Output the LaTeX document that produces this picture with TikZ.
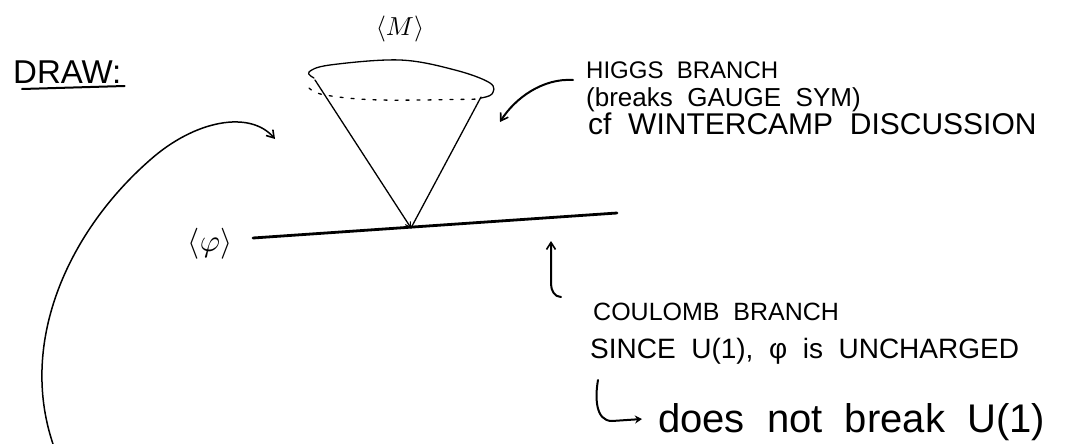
\documentclass[tikz,border=0pt]{standalone}
\usepackage{fontspec}
\setmainfont{Liberation Sans}[WordSpace=2]
\usetikzlibrary{arrows.meta}
\begin{document}
\begin{tikzpicture}[x=1pt,y=-1pt,
  ink/.style={line width=2pt, line cap=round, line join=round},
  fine/.style={line width=1.3pt, line cap=round, line join=round},
  bold/.style={line width=2.8pt, line cap=round},
  tip/.style={-{Straight Barb[length=7pt,width=9pt,line width=1.6pt]}},
  txt/.style={inner sep=0pt, anchor=base west},
  lbl/.style={inner sep=0pt, anchor=center}]
\useasboundingbox (0,0) rectangle (1078,444);

% title
\node[txt] (draw) at (13,83) {\fontsize{33}{36}\selectfont DRAW:};
\draw[ink] ([shift={(9,6)}]draw.base west) -- ([shift={(3,3)}]draw.base east);

% cone labels
\node[lbl] (M) at (400,29) {\scalebox{2.6}{$\langle M\rangle$}};
\node[lbl] (phi) at (210,244) {\scalebox{3.1}{$\langle\varphi\rangle$}};

% Coulomb branch line
\coordinate (cL) at (253,238);
\coordinate (cR) at (617,213);
\coordinate (apex) at (411,228);
\draw[bold] (cL) -- (cR);

% cone
\coordinate (rimL) at (315,80);
\coordinate (rimR) at (481,97);
\draw[fine] plot[smooth, tension=0.6] coordinates {(314,78) (309,72) (330,65) (400,60) (455,70) (490,83) (492,94) (481,98)};
\draw[fine, dash pattern=on 3pt off 8pt] plot[smooth, tension=0.6] coordinates {(309,88) (325,95) (380,100) (481,99)};
\draw[fine, -{Straight Barb[length=5pt,width=6pt,line width=1pt]}] (rimL) -- (apex);
\draw[fine] (rimR) -- (apex);

% Higgs branch text
\node[txt] (h1) at (586,78) {\fontsize{24}{28}\selectfont HIGGS BRANCH};
\node[txt] (h2) at (586,106) {\fontsize{26}{30}\selectfont (breaks GAUGE SYM)};
\node[txt] (h3) at (588,134) {\fontsize{30}{34}\selectfont cf WINTERCAMP DISCUSSION};
\coordinate (hs) at (573,80);
\coordinate (he) at (500,122);
\draw[ink, tip] (hs) .. controls (543,78) and (515,98) .. (he);

% Coulomb branch text
\node[txt] (c1) at (593,320) {\fontsize{25}{30}\selectfont COULOMB BRANCH};
\node[txt] (c2) at (590,358) {\fontsize{28}{32}\selectfont SINCE U(1), φ is UNCHARGED};
\node[txt] (c3) at (658,432) {\fontsize{40}{44}\selectfont does not break U(1)};
\coordinate (cs) at (561,297);
\coordinate (ct) at (551,241);
\draw[ink, tip] (cs) to[out=180,in=-90] (551,284) -- (ct);
\coordinate (ks) at (598,380);
\coordinate (ke) at (642,419);
\draw[ink, -{Stealth[length=7pt,width=8pt]}] (ks) to[out=-100,in=180] (612,421) -- (ke);

% big curved arrow
\coordinate (bs) at (53,444);
\coordinate (bm) at (150,160);
\coordinate (be) at (275,139);
\draw[fine, line width=1.5pt, tip] (bs) .. controls (18,340) and (70,230) .. (bm)
  .. controls (195,120) and (250,110) .. (be);
\end{tikzpicture}
\end{document}
